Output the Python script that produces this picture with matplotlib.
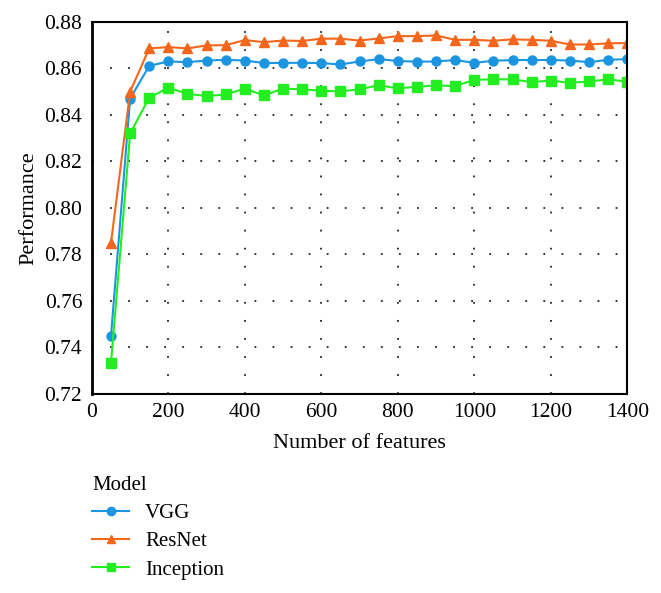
import numpy as np
import matplotlib.pyplot as plt

features = list(range(50, 1401, 50))

vgg = [0.745, 0.847, 0.8611, 0.8630, 0.8627, 0.8634, 0.8637, 0.8634, 0.8623, 0.8624,
       0.8624, 0.8623, 0.8617, 0.8630, 0.8640, 0.8632, 0.8629, 0.8630, 0.8636, 0.8624,
       0.8633, 0.8636, 0.8636, 0.8636, 0.8634, 0.8627, 0.8637, 0.8640]
resnet = [0.785, 0.850, 0.8686, 0.8692, 0.8686, 0.8699, 0.8700, 0.8722, 0.8713, 0.8720,
          0.8718, 0.8728, 0.8728, 0.8720, 0.8729, 0.8739, 0.8739, 0.8742, 0.8723, 0.8723,
          0.8719, 0.8725, 0.8723, 0.8719, 0.8703, 0.8703, 0.8708, 0.8709]
inception = [0.7332, 0.832, 0.8474, 0.8517, 0.8491, 0.8481, 0.8488, 0.8513, 0.8484, 0.8513,
             0.8510, 0.8504, 0.8501, 0.8510, 0.8528, 0.8514, 0.8521, 0.8527, 0.8524, 0.8551,
             0.8553, 0.8553, 0.8541, 0.8548, 0.8538, 0.8544, 0.8553, 0.8543]

plt.rcParams['font.family'] = ['Liberation Serif', 'DejaVu Serif']

fig = plt.figure(figsize=(6.61, 5.93), dpi=100)
ax = fig.add_axes([0.139, 0.336, 0.81, 0.627])

ax.plot(features, vgg, color='#1b95e0', marker='o', markersize=6.5, lw=1.5, label='VGG')
ax.plot(features, resnet, color='#f4661b', marker='^', markersize=7, lw=1.5, label='ResNet')
ax.plot(features, inception, color='#22ee22', marker='s', markersize=6.5, lw=1.5, label='Inception')

ax.set_xlim(0, 1400)
ax.set_ylim(0.72, 0.88)
ax.set_xticks(range(0, 1401, 200))
ax.set_yticks(np.arange(0.72, 0.8801, 0.02))
ax.set_yticklabels([f'{v:.2f}' for v in np.arange(0.72, 0.8801, 0.02)])
ax.tick_params(length=0, labelsize=15.5)
ax.tick_params(axis='y', pad=7)
ax.tick_params(axis='x', pad=7)
ax.grid(True, color='#222222', linestyle=(0, (1, 9)), linewidth=1.3)
for s in ax.spines.values():
    s.set_linewidth(1.5)
ax.spines['left'].set_linewidth(2)
ax.set_xlabel('Number of features', fontsize=16, labelpad=8)
ax.set_ylabel('Performance', fontsize=16, labelpad=4)

leg = ax.legend(title='Model', loc='upper left', bbox_to_anchor=(0.139, 0.198),
                bbox_transform=fig.transFigure, frameon=False, fontsize=15,
                title_fontsize=15, handlelength=1.8, handletextpad=0.75,
                labelspacing=0.42, borderpad=0, borderaxespad=0)
leg._legend_box.align = 'left'
for h in leg.legend_handles:
    h.set_markersize(6)

fig.savefig('out.png', dpi=100)
